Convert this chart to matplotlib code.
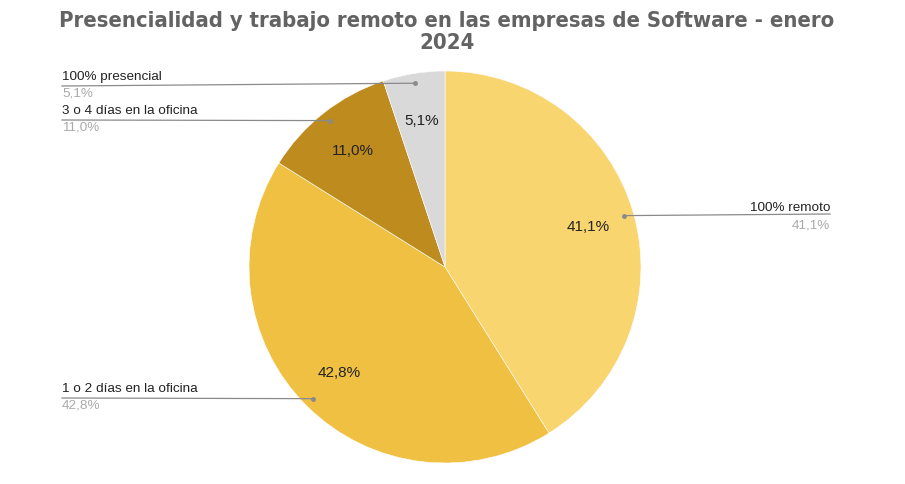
import numpy as np
import matplotlib.pyplot as plt

# data
categories = ["100% remoto", "1 o 2 días en la oficina",
              "3 o 4 días en la oficina", "100% presencial"]
values = [41.1, 42.8, 11.0, 5.1]
colors = ["#F9D570", "#F0C042", "#BE8B1E", "#D9D9D9"]

W, H = 905, 485
fig = plt.figure(figsize=(W / 100, H / 100), dpi=100)
ax = fig.add_axes([0, 0, 1, 1])
ax.set_xlim(0, W)
ax.set_ylim(0, H)
ax.set_aspect("equal")
ax.axis("off")

cx, cy, R = 445, H - 268, 196

def fmt(p):
    return f"{p:.1f}%".replace(".", ",")

wedges, texts, autotexts = ax.pie(
    values, colors=colors, startangle=90, counterclock=False,
    center=(cx, cy), radius=R, autopct=fmt, pctdistance=0.76,
    wedgeprops=dict(edgecolor="white", linewidth=0.4),
    textprops=dict(fontsize=11, color="#222222", family="Liberation Sans"))
ax.set_xlim(0, W)
ax.set_ylim(0, H)

# outside labels: (text x, text y (top-down px), line y, alignment)
label_pos = [(830, 208, 215, "right"),
             (62, 389, 399, "left"),
             (62, 111, 121, "left"),
             (62, 77, 87, "left")]

for w, cat, v, (tx, ty, ly, ha) in zip(wedges, categories, values, label_pos):
    ang = np.deg2rad((w.theta1 + w.theta2) / 2)
    px = cx + 0.95 * R * np.cos(ang)
    py = cy + 0.95 * R * np.sin(ang)
    ax.plot([tx, px], [H - ly, py], color="#8a8a8a", lw=0.9, zorder=5)
    ax.plot(px, py, "o", color="#8a8a8a", ms=2.5, zorder=6)
    ax.text(tx, H - ty, cat, ha=ha, va="center", fontsize=9.7,
            color="#222222", family="Liberation Sans")
    ax.text(tx, H - ty - 17, fmt(v), ha=ha, va="center", fontsize=9.7,
            color="#aaaaaa", family="Liberation Sans")

ax.text(447, H - 32, "Presencialidad y trabajo remoto en las empresas de Software - enero\n2024",
        ha="center", va="center", fontsize=15.8, fontweight="bold", color="#636363",
        family="DejaVu Sans", fontstretch="condensed", linespacing=1.08)

fig.savefig("out.png", dpi=100)
